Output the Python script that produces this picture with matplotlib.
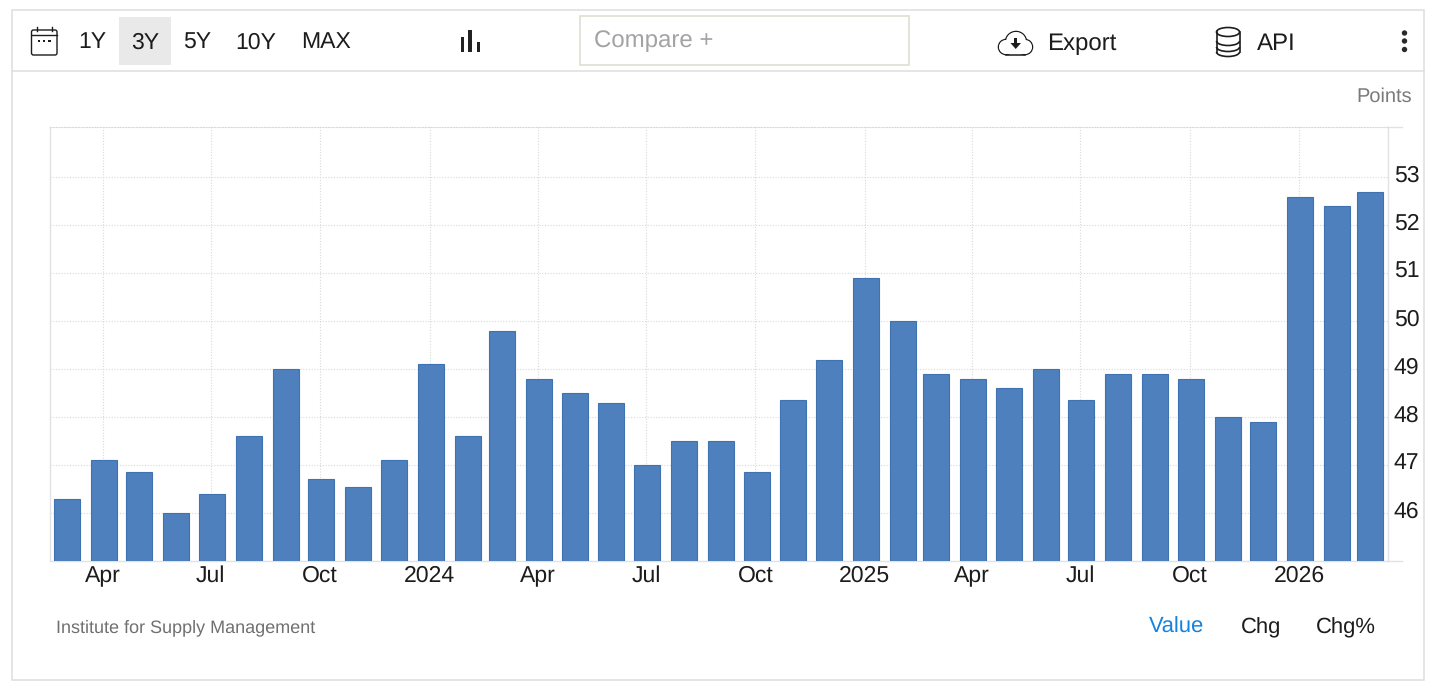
import matplotlib
matplotlib.use("Agg")
import matplotlib.pyplot as plt
import matplotlib.dates as mdates
import pandas as pd
from matplotlib.patches import Rectangle, Ellipse, FancyBboxPatch, Circle, Arc, Polygon
from matplotlib.transforms import ScaledTranslation

plt.rcParams['font.family'] = ['Liberation Sans', 'DejaVu Sans']
plt.rcParams['text.hinting'] = 'no_hinting'
plt.rcParams['text.hinting_factor'] = 1

months = pd.date_range("2023-03-01", "2026-03-01", freq="MS")
values = [46.3, 47.1, 46.85, 46.0, 46.4, 47.6, 49.0, 46.7, 46.55, 47.1, 49.1, 47.6, 49.8,
          48.8, 48.5, 48.3, 47.0, 47.5, 47.5, 46.85, 48.35, 49.2, 50.9, 50.0, 48.9, 48.8,
          48.6, 49.0, 48.35, 48.9, 48.9, 48.8, 48.0, 47.9, 52.6, 52.4, 52.7]
y_ticks = [46, 47, 48, 49, 50, 51, 52, 53]
x_tick_dates = ["2023-04-01", "2023-07-01", "2023-10-01", "2024-01-01", "2024-04-01", "2024-07-01",
                "2024-10-01", "2025-01-01", "2025-04-01", "2025-07-01", "2025-10-01", "2026-01-01"]
x_tick_labels = ["Apr", "Jul", "Oct", "2024", "Apr", "Jul", "Oct", "2025", "Apr", "Jul", "Oct", "2026"]
range_buttons = ["1Y", "3Y", "5Y", "10Y", "MAX"]
value_tabs = ["Value", "Chg", "Chg%"]

W, H = 1456, 692
GRID = "#d9d9d9"
FRAME = "#dedede"
INK = "#1c1c1c"

fig = plt.figure(figsize=(W / 100, H / 100), dpi=100, facecolor="white")

# Chart axes
L, R, T, B = 50, 1388, 127, 561
ax = fig.add_axes([L / W, 1 - B / H, (R - L) / W, (B - T) / H])
ax.set_zorder(2)
ax.patch.set_alpha(0)
x0 = mdates.date2num(pd.Timestamp("2023-04-01"))
x1 = mdates.date2num(pd.Timestamp("2026-01-01"))
per_px = (x1 - x0) / (1299 - 102.5)
ax.set_xlim(x0 - (102.5 - L) * per_px, x0 + (R - 102.5) * per_px)
ax.set_ylim(45, 53 + (177.5 - T) / 48.0)

ax.bar(mdates.date2num(months) + 0.9, values, width=26 * per_px, color="#4d80bd",
       edgecolor="#3f72b0", linewidth=0.8, zorder=3)

ax.set_xticks(mdates.date2num(pd.to_datetime(x_tick_dates)))
ax.set_xticklabels(x_tick_labels, fontsize=16.6, color=INK)
ax.set_yticks(y_ticks)
ax.set_yticklabels([str(v) for v in y_ticks], fontsize=16.8, color=INK)
ax.tick_params(axis="x", length=0, pad=3)
ax.tick_params(axis="y", length=0, pad=6, labelleft=False, labelright=True, left=False)
for lab in ax.get_yticklabels():
    lab.set_transform(lab.get_transform() + ScaledTranslation(-2.5 / 100, 4 / 100, fig.dpi_scale_trans))
ax.grid(True, color=GRID, linestyle=(0, (1, 1.5)), linewidth=0.8, zorder=0)
ax.set_axisbelow(True)
for side in ("left", "right", "bottom"):
    ax.spines[side].set_color("#e2e2e2")
    ax.spines[side].set_linewidth(1)
ax.spines["top"].set_color(GRID)
ax.spines["top"].set_linestyle((0, (1, 1.5)))
ax.spines["top"].set_linewidth(0.8)

# Pixel-space overlay for the page furniture
ov = fig.add_axes([0, 0, 1, 1], zorder=1)
ov.set_xlim(0, W)
ov.set_ylim(H, 0)
ov.axis("off")

ov.add_patch(Rectangle((12, 10), 1412, 670, fill=False, edgecolor=FRAME, linewidth=1.1))
ov.plot([12, 1424], [71, 71], color=FRAME, lw=1.1)
ov.plot([1388, 1402], [561, 561], color="#e2e2e2", lw=1)
ov.plot([1388, 1402], [127, 127], color="#e2e2e2", lw=1)

# Calendar icon
ov.add_patch(FancyBboxPatch((31.5, 30), 25.5, 25, boxstyle="round,pad=0,rounding_size=2",
                            fill=False, edgecolor=INK, linewidth=1))
ov.plot([31.5, 57], [35, 35], color=INK, lw=1)
for x in (37, 52):
    ov.plot([x, x], [26.5, 31], color=INK, lw=1)
for x in (39, 44, 49.5):
    ov.add_patch(Rectangle((x - 1.2, 39.5), 2.4, 2.4, color=INK, lw=0))

# Range buttons
ov.add_patch(Rectangle((119, 17), 52, 48, color="#e9e9e9", lw=0))
for label, x in zip(range_buttons, [92, 145, 197, 256, 326]):
    ov.text(x, 42.5, label, fontsize=16.6, color=INK, ha="center", va="center")

# Bar-chart icon
for x, top in zip([462.5, 470, 478.5], [37, 30, 42]):
    ov.add_patch(Rectangle((x - 1.7, top), 3.4, 52 - top, color="#222222", lw=0))

# Compare box
ov.add_patch(Rectangle((579.5, 16), 329, 49, fill=False, edgecolor="#deded2", linewidth=1.2))
ov.text(594.5, 40.5, "Compare +", fontsize=17, color="#a3a3a3", ha="left", va="center")

# Cloud icon
ox, oy = 998, 30
for c, r in (((ox + 18, oy + 12), 10.5), ((ox + 8, oy + 17), 7.5), ((ox + 27, oy + 17), 7.5)):
    ov.add_patch(Circle(c, r, fill=False, edgecolor=INK, lw=1.1, zorder=1))
ov.add_patch(Circle((ox + 18, oy + 12), 10, color="white", lw=0, zorder=2))
ov.add_patch(Circle((ox + 8, oy + 17), 7, color="white", lw=0, zorder=2))
ov.add_patch(Circle((ox + 27, oy + 17), 7, color="white", lw=0, zorder=2))
ov.add_patch(Rectangle((ox + 7, oy + 12), 21, 12, color="white", lw=0, zorder=2))
ov.plot([ox + 8, ox + 27], [oy + 24.5, oy + 24.5], color=INK, lw=1.1, zorder=3)
ov.add_patch(Polygon([[ox + 12.5, oy + 13], [ox + 23, oy + 13], [ox + 17.7, oy + 19]], color=INK, lw=0, zorder=3))
ov.add_patch(Rectangle((ox + 16.2, oy + 8), 3, 6, color=INK, lw=0, zorder=3))
ov.text(1047, 43.5, "Export", fontsize=17, color=INK, ha="left", va="center")

# Database icon
cx = 1228
ov.add_patch(Ellipse((cx, 32), 23, 9, fill=False, edgecolor=INK, lw=1.2))
ov.plot([cx - 11.5, cx - 11.5], [32, 52], color=INK, lw=1.2)
ov.plot([cx + 11.5, cx + 11.5], [32, 52], color=INK, lw=1.2)
for y in (41, 47, 52):
    ov.add_patch(Arc((cx, y), 23, 9, theta1=0, theta2=180, edgecolor=INK, lw=1.2))
ov.text(1257, 43.5, "API", fontsize=17, color=INK, ha="left", va="center")

# Kebab menu
for y in (33, 41, 49.5):
    ov.add_patch(Circle((1404.5, y), 2.7, color="#2a2a2a", lw=0))

ov.text(1412, 96.5, "Points", fontsize=14.3, color="#7a7a7a", ha="right", va="center")
ov.text(56, 627.5, "Institute for Supply Management", fontsize=12.7, color="#707070", ha="left", va="center")
for label, x, col in zip(value_tabs, [1176.5, 1261.5, 1346], ["#1283e0", INK, INK]):
    ov.text(x, 627.5, label, fontsize=16.1, color=col, ha="center", va="center")

fig.savefig("out.png", dpi=100, facecolor="white")
